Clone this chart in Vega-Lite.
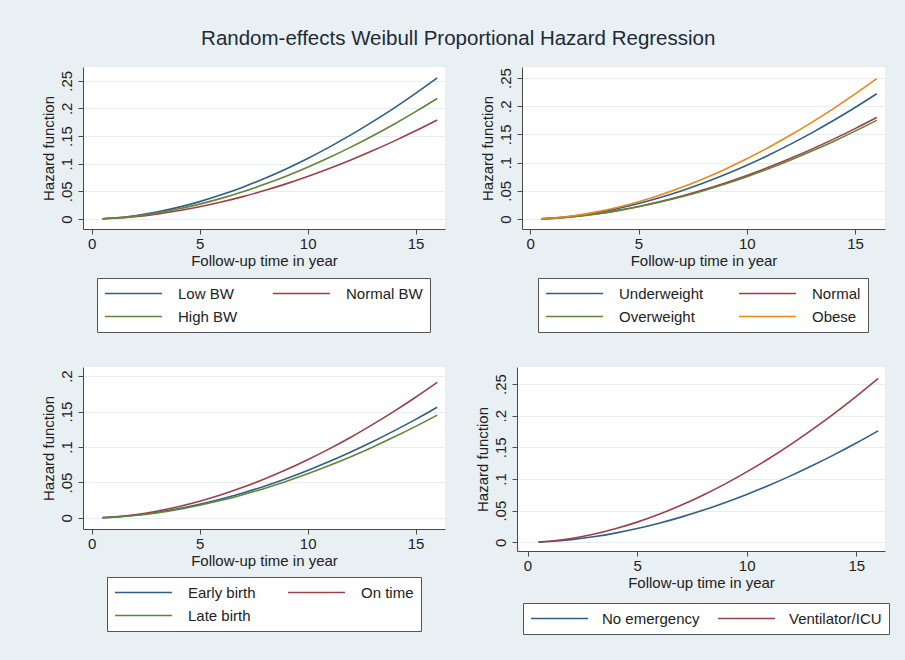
{
  "$schema": "https://vega.github.io/schema/vega-lite/v6.json",
  "background": "#e8f0f3",
  "padding": {"left": 40, "top": 28, "right": 20, "bottom": 27},
  "title": {
    "text": "Random-effects Weibull Proportional Hazard Regression",
    "font": "Liberation Sans",
    "fontSize": 20.5,
    "fontWeight": "normal",
    "color": "#1f2a36",
    "anchor": "middle",
    "dx": -7,
    "offset": 18
  },
  "datasets": {
    "bw": [
      {"t": 0.5, "g": "Low BW", "h": 0.0005}, {"t": 1, "g": "Low BW", "h": 0.0017}, {"t": 2, "g": "Low BW", "h": 0.006}, {"t": 3, "g": "Low BW", "h": 0.0125}, {"t": 4, "g": "Low BW", "h": 0.021}, {"t": 5, "g": "Low BW", "h": 0.0314}, {"t": 6, "g": "Low BW", "h": 0.0437}, {"t": 7, "g": "Low BW", "h": 0.0576}, {"t": 8, "g": "Low BW", "h": 0.0732}, {"t": 9, "g": "Low BW", "h": 0.0905}, {"t": 10, "g": "Low BW", "h": 0.1094}, {"t": 11, "g": "Low BW", "h": 0.13}, {"t": 12, "g": "Low BW", "h": 0.152}, {"t": 13, "g": "Low BW", "h": 0.1755}, {"t": 14, "g": "Low BW", "h": 0.2005}, {"t": 15, "g": "Low BW", "h": 0.2271}, {"t": 16, "g": "Low BW", "h": 0.255},
      {"t": 0.5, "g": "Normal BW", "h": 0.0003}, {"t": 1, "g": "Normal BW", "h": 0.0012}, {"t": 2, "g": "Normal BW", "h": 0.0042}, {"t": 3, "g": "Normal BW", "h": 0.0088}, {"t": 4, "g": "Normal BW", "h": 0.0148}, {"t": 5, "g": "Normal BW", "h": 0.0221}, {"t": 6, "g": "Normal BW", "h": 0.0306}, {"t": 7, "g": "Normal BW", "h": 0.0404}, {"t": 8, "g": "Normal BW", "h": 0.0514}, {"t": 9, "g": "Normal BW", "h": 0.0635}, {"t": 10, "g": "Normal BW", "h": 0.0768}, {"t": 11, "g": "Normal BW", "h": 0.0912}, {"t": 12, "g": "Normal BW", "h": 0.1067}, {"t": 13, "g": "Normal BW", "h": 0.1232}, {"t": 14, "g": "Normal BW", "h": 0.1408}, {"t": 15, "g": "Normal BW", "h": 0.1594}, {"t": 16, "g": "Normal BW", "h": 0.179},
      {"t": 0.5, "g": "High BW", "h": 0.0004}, {"t": 1, "g": "High BW", "h": 0.0015}, {"t": 2, "g": "High BW", "h": 0.0052}, {"t": 3, "g": "High BW", "h": 0.0107}, {"t": 4, "g": "High BW", "h": 0.018}, {"t": 5, "g": "High BW", "h": 0.0269}, {"t": 6, "g": "High BW", "h": 0.0373}, {"t": 7, "g": "High BW", "h": 0.0492}, {"t": 8, "g": "High BW", "h": 0.0626}, {"t": 9, "g": "High BW", "h": 0.0774}, {"t": 10, "g": "High BW", "h": 0.0936}, {"t": 11, "g": "High BW", "h": 0.1111}, {"t": 12, "g": "High BW", "h": 0.1299}, {"t": 13, "g": "High BW", "h": 0.1501}, {"t": 14, "g": "High BW", "h": 0.1714}, {"t": 15, "g": "High BW", "h": 0.1941}, {"t": 16, "g": "High BW", "h": 0.218}
    ],
    "bmi": [
      {"t": 0.5, "g": "Underweight", "h": 0.0004}, {"t": 1, "g": "Underweight", "h": 0.0015}, {"t": 2, "g": "Underweight", "h": 0.0053}, {"t": 3, "g": "Underweight", "h": 0.0109}, {"t": 4, "g": "Underweight", "h": 0.0183}, {"t": 5, "g": "Underweight", "h": 0.0274}, {"t": 6, "g": "Underweight", "h": 0.038}, {"t": 7, "g": "Underweight", "h": 0.0501}, {"t": 8, "g": "Underweight", "h": 0.0638}, {"t": 9, "g": "Underweight", "h": 0.0788}, {"t": 10, "g": "Underweight", "h": 0.0953}, {"t": 11, "g": "Underweight", "h": 0.1132}, {"t": 12, "g": "Underweight", "h": 0.1323}, {"t": 13, "g": "Underweight", "h": 0.1528}, {"t": 14, "g": "Underweight", "h": 0.1746}, {"t": 15, "g": "Underweight", "h": 0.1977}, {"t": 16, "g": "Underweight", "h": 0.222},
      {"t": 0.5, "g": "Normal", "h": 0.0004}, {"t": 1, "g": "Normal", "h": 0.0012}, {"t": 2, "g": "Normal", "h": 0.0043}, {"t": 3, "g": "Normal", "h": 0.0088}, {"t": 4, "g": "Normal", "h": 0.0149}, {"t": 5, "g": "Normal", "h": 0.0222}, {"t": 6, "g": "Normal", "h": 0.0308}, {"t": 7, "g": "Normal", "h": 0.0407}, {"t": 8, "g": "Normal", "h": 0.0517}, {"t": 9, "g": "Normal", "h": 0.0639}, {"t": 10, "g": "Normal", "h": 0.0773}, {"t": 11, "g": "Normal", "h": 0.0917}, {"t": 12, "g": "Normal", "h": 0.1073}, {"t": 13, "g": "Normal", "h": 0.1239}, {"t": 14, "g": "Normal", "h": 0.1416}, {"t": 15, "g": "Normal", "h": 0.1603}, {"t": 16, "g": "Normal", "h": 0.18},
      {"t": 0.5, "g": "Overweight", "h": 0.0003}, {"t": 1, "g": "Overweight", "h": 0.0012}, {"t": 2, "g": "Overweight", "h": 0.0041}, {"t": 3, "g": "Overweight", "h": 0.0086}, {"t": 4, "g": "Overweight", "h": 0.0144}, {"t": 5, "g": "Overweight", "h": 0.0216}, {"t": 6, "g": "Overweight", "h": 0.03}, {"t": 7, "g": "Overweight", "h": 0.0395}, {"t": 8, "g": "Overweight", "h": 0.0503}, {"t": 9, "g": "Overweight", "h": 0.0621}, {"t": 10, "g": "Overweight", "h": 0.0751}, {"t": 11, "g": "Overweight", "h": 0.0892}, {"t": 12, "g": "Overweight", "h": 0.1043}, {"t": 13, "g": "Overweight", "h": 0.1205}, {"t": 14, "g": "Overweight", "h": 0.1376}, {"t": 15, "g": "Overweight", "h": 0.1558}, {"t": 16, "g": "Overweight", "h": 0.175},
      {"t": 0.5, "g": "Obese", "h": 0.0005}, {"t": 1, "g": "Obese", "h": 0.0017}, {"t": 2, "g": "Obese", "h": 0.0059}, {"t": 3, "g": "Obese", "h": 0.0122}, {"t": 4, "g": "Obese", "h": 0.0205}, {"t": 5, "g": "Obese", "h": 0.0307}, {"t": 6, "g": "Obese", "h": 0.0426}, {"t": 7, "g": "Obese", "h": 0.0562}, {"t": 8, "g": "Obese", "h": 0.0715}, {"t": 9, "g": "Obese", "h": 0.0884}, {"t": 10, "g": "Obese", "h": 0.1069}, {"t": 11, "g": "Obese", "h": 0.1269}, {"t": 12, "g": "Obese", "h": 0.1484}, {"t": 13, "g": "Obese", "h": 0.1714}, {"t": 14, "g": "Obese", "h": 0.1958}, {"t": 15, "g": "Obese", "h": 0.2217}, {"t": 16, "g": "Obese", "h": 0.249}
    ],
    "birth": [
      {"t": 0.5, "g": "Early birth", "h": 0.0003}, {"t": 1, "g": "Early birth", "h": 0.0011}, {"t": 2, "g": "Early birth", "h": 0.0037}, {"t": 3, "g": "Early birth", "h": 0.0077}, {"t": 4, "g": "Early birth", "h": 0.0129}, {"t": 5, "g": "Early birth", "h": 0.0192}, {"t": 6, "g": "Early birth", "h": 0.0267}, {"t": 7, "g": "Early birth", "h": 0.0352}, {"t": 8, "g": "Early birth", "h": 0.0448}, {"t": 9, "g": "Early birth", "h": 0.0554}, {"t": 10, "g": "Early birth", "h": 0.067}, {"t": 11, "g": "Early birth", "h": 0.0795}, {"t": 12, "g": "Early birth", "h": 0.093}, {"t": 13, "g": "Early birth", "h": 0.1074}, {"t": 14, "g": "Early birth", "h": 0.1227}, {"t": 15, "g": "Early birth", "h": 0.1389}, {"t": 16, "g": "Early birth", "h": 0.156},
      {"t": 0.5, "g": "On time", "h": 0.0004}, {"t": 1, "g": "On time", "h": 0.0013}, {"t": 2, "g": "On time", "h": 0.0045}, {"t": 3, "g": "On time", "h": 0.0094}, {"t": 4, "g": "On time", "h": 0.0158}, {"t": 5, "g": "On time", "h": 0.0236}, {"t": 6, "g": "On time", "h": 0.0327}, {"t": 7, "g": "On time", "h": 0.0431}, {"t": 8, "g": "On time", "h": 0.0549}, {"t": 9, "g": "On time", "h": 0.0678}, {"t": 10, "g": "On time", "h": 0.082}, {"t": 11, "g": "On time", "h": 0.0974}, {"t": 12, "g": "On time", "h": 0.1138}, {"t": 13, "g": "On time", "h": 0.1315}, {"t": 14, "g": "On time", "h": 0.1502}, {"t": 15, "g": "On time", "h": 0.1701}, {"t": 16, "g": "On time", "h": 0.191},
      {"t": 0.5, "g": "Late birth", "h": 0.0003}, {"t": 1, "g": "Late birth", "h": 0.001}, {"t": 2, "g": "Late birth", "h": 0.0034}, {"t": 3, "g": "Late birth", "h": 0.0071}, {"t": 4, "g": "Late birth", "h": 0.012}, {"t": 5, "g": "Late birth", "h": 0.0179}, {"t": 6, "g": "Late birth", "h": 0.0248}, {"t": 7, "g": "Late birth", "h": 0.0328}, {"t": 8, "g": "Late birth", "h": 0.0416}, {"t": 9, "g": "Late birth", "h": 0.0515}, {"t": 10, "g": "Late birth", "h": 0.0622}, {"t": 11, "g": "Late birth", "h": 0.0739}, {"t": 12, "g": "Late birth", "h": 0.0864}, {"t": 13, "g": "Late birth", "h": 0.0998}, {"t": 14, "g": "Late birth", "h": 0.114}, {"t": 15, "g": "Late birth", "h": 0.1291}, {"t": 16, "g": "Late birth", "h": 0.145}
    ],
    "emergency": [
      {"t": 0.5, "g": "No emergency", "h": 0.0003}, {"t": 1, "g": "No emergency", "h": 0.0012}, {"t": 2, "g": "No emergency", "h": 0.0042}, {"t": 3, "g": "No emergency", "h": 0.0087}, {"t": 4, "g": "No emergency", "h": 0.0145}, {"t": 5, "g": "No emergency", "h": 0.0217}, {"t": 6, "g": "No emergency", "h": 0.0301}, {"t": 7, "g": "No emergency", "h": 0.0398}, {"t": 8, "g": "No emergency", "h": 0.0505}, {"t": 9, "g": "No emergency", "h": 0.0625}, {"t": 10, "g": "No emergency", "h": 0.0755}, {"t": 11, "g": "No emergency", "h": 0.0897}, {"t": 12, "g": "No emergency", "h": 0.1049}, {"t": 13, "g": "No emergency", "h": 0.1212}, {"t": 14, "g": "No emergency", "h": 0.1384}, {"t": 15, "g": "No emergency", "h": 0.1567}, {"t": 16, "g": "No emergency", "h": 0.176},
      {"t": 0.5, "g": "Ventilator/ICU", "h": 0.0005}, {"t": 1, "g": "Ventilator/ICU", "h": 0.0018}, {"t": 2, "g": "Ventilator/ICU", "h": 0.0061}, {"t": 3, "g": "Ventilator/ICU", "h": 0.0127}, {"t": 4, "g": "Ventilator/ICU", "h": 0.0214}, {"t": 5, "g": "Ventilator/ICU", "h": 0.0319}, {"t": 6, "g": "Ventilator/ICU", "h": 0.0443}, {"t": 7, "g": "Ventilator/ICU", "h": 0.0585}, {"t": 8, "g": "Ventilator/ICU", "h": 0.0744}, {"t": 9, "g": "Ventilator/ICU", "h": 0.0919}, {"t": 10, "g": "Ventilator/ICU", "h": 0.1112}, {"t": 11, "g": "Ventilator/ICU", "h": 0.132}, {"t": 12, "g": "Ventilator/ICU", "h": 0.1543}, {"t": 13, "g": "Ventilator/ICU", "h": 0.1783}, {"t": 14, "g": "Ventilator/ICU", "h": 0.2037}, {"t": 15, "g": "Ventilator/ICU", "h": 0.2306}, {"t": 16, "g": "Ventilator/ICU", "h": 0.259}
    ]
  },
  "spacing": 34,
  "vconcat": [
    {
      "bounds": "flush",
      "spacing": 77,
      "hconcat": [
        {
          "width": 362,
          "height": 162,
          "data": {"name": "bw"},
          "mark": {"type": "line", "strokeWidth": 1.6, "interpolate": "monotone"},
          "encoding": {
            "x": {"field": "t", "type": "quantitative", "scale": {"domain": [-0.4, 16.36], "nice": false, "zero": false}, "axis": {"values": [0, 5, 10, 15], "title": "Follow-up time in year"}},
            "y": {"field": "h", "type": "quantitative", "scale": {"domain": [-0.0181, 0.2748], "nice": false, "zero": false}, "axis": {"values": [0, 0.05, 0.1, 0.15, 0.2, 0.25], "title": "Hazard function"}},
            "color": {
              "field": "g", "type": "nominal",
              "scale": {"domain": ["Low BW", "High BW", "Normal BW"], "range": ["#2f5f86", "#62843b", "#9c3f47"]},
              "legend": {"title": null, "legendX": 14, "legendY": 211, "columnPadding": 34}
            }
          }
        },
        {
          "width": 363,
          "height": 162,
          "data": {"name": "bmi"},
          "mark": {"type": "line", "strokeWidth": 1.6, "interpolate": "monotone"},
          "encoding": {
            "x": {"field": "t", "type": "quantitative", "scale": {"domain": [-0.38, 16.38], "nice": false, "zero": false}, "axis": {"values": [0, 5, 10, 15], "title": "Follow-up time in year"}},
            "y": {"field": "h", "type": "quantitative", "scale": {"domain": [-0.0177, 0.2695], "nice": false, "zero": false}, "axis": {"values": [0, 0.05, 0.1, 0.15, 0.2, 0.25], "title": "Hazard function"}},
            "color": {
              "field": "g", "type": "nominal",
              "scale": {"domain": ["Underweight", "Overweight", "Normal", "Obese"], "range": ["#2f5f86", "#62843b", "#9c3f47", "#e8891a"]},
              "legend": {"title": null, "legendX": 16, "legendY": 211, "columnPadding": 34}
            }
          }
        }
      ],
      "resolve": {"scale": {"color": "independent", "x": "independent", "y": "independent"}, "legend": {"color": "independent"}}
    },
    {
      "bounds": "flush",
      "spacing": 72,
      "hconcat": [
        {
          "width": 362,
          "height": 162,
          "data": {"name": "birth"},
          "mark": {"type": "line", "strokeWidth": 1.6, "interpolate": "monotone"},
          "encoding": {
            "x": {"field": "t", "type": "quantitative", "scale": {"domain": [-0.4, 16.36], "nice": false, "zero": false}, "axis": {"values": [0, 5, 10, 15], "title": "Follow-up time in year"}},
            "y": {"field": "h", "type": "quantitative", "scale": {"domain": [-0.0156, 0.2128], "nice": false, "zero": false}, "axis": {"values": [0, 0.05, 0.1, 0.15, 0.2], "title": "Hazard function"}},
            "color": {
              "field": "g", "type": "nominal",
              "scale": {"domain": ["Early birth", "Late birth", "On time"], "range": ["#2f5f86", "#62843b", "#9c3f47"]},
              "legend": {"title": null, "legendX": 24, "legendY": 210, "columnPadding": 31}
            }
          }
        },
        {
          "width": 368,
          "height": 184,
          "data": {"name": "emergency"},
          "mark": {"type": "line", "strokeWidth": 1.6, "interpolate": "monotone"},
          "encoding": {
            "x": {"field": "t", "type": "quantitative", "scale": {"domain": [-0.48, 16.31], "nice": false, "zero": false}, "axis": {"values": [0, 5, 10, 15], "title": "Follow-up time in year"}},
            "y": {"field": "h", "type": "quantitative", "scale": {"domain": [-0.0137, 0.2768], "nice": false, "zero": false}, "axis": {"values": [0, 0.05, 0.1, 0.15, 0.2, 0.25], "title": "Hazard function"}},
            "color": {
              "field": "g", "type": "nominal",
              "scale": {"domain": ["No emergency", "Ventilator/ICU"], "range": ["#2f5f86", "#9c3f47"]},
              "legend": {"title": null, "legendX": 6, "legendY": 236, "columnPadding": 17, "labelOffset": 13}
            }
          }
        }
      ],
      "resolve": {"scale": {"color": "independent", "x": "independent", "y": "independent"}, "legend": {"color": "independent"}}
    }
  ],
  "resolve": {"scale": {"color": "independent", "x": "independent", "y": "independent"}, "legend": {"color": "independent"}},
  "config": {
    "font": "Liberation Sans",
    "view": {"fill": "white", "stroke": null},
    "axis": {
      "labelFont": "Liberation Sans",
      "labelFontSize": 15,
      "labelColor": "#222222",
      "titleFont": "Liberation Sans",
      "titleFontSize": 15,
      "titleFontWeight": "normal",
      "titleColor": "#222222",
      "domainColor": "#4a4a4a",
      "domainWidth": 1,
      "tickColor": "#4a4a4a",
      "tickSize": 5,
      "gridColor": "#e6eef1",
      "gridWidth": 1
    },
    "axisX": {"grid": false, "labelPadding": 2, "titlePadding": 2, "labelFlush": false},
    "axisY": {
      "grid": true,
      "labelAngle": -90,
      "labelAlign": "center",
      "labelBaseline": "bottom",
      "labelPadding": 4,
      "titlePadding": 3,
      "labelExpr": "datum.value == 0 ? '0' : slice(format(datum.value, '.2~f'), 1)"
    },
    "legend": {
      "orient": "none",
      "columns": 2,
      "symbolType": "stroke",
      "symbolSize": 3249,
      "symbolStrokeWidth": 1.6,
      "clipHeight": 17,
      "labelFont": "Liberation Sans",
      "labelFontSize": 15,
      "labelColor": "#222222",
      "labelOffset": 15,
      "rowPadding": 6,
      "padding": 7,
      "strokeColor": "#555555",
      "fillColor": "white",
      "cornerRadius": 0
    }
  }
}
